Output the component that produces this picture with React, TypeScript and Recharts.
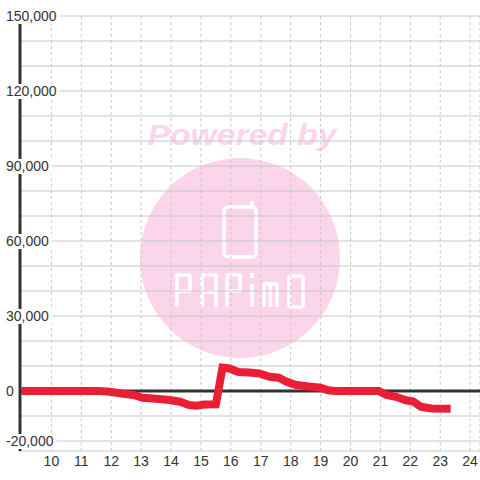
import React from 'react';
import {
  LineChart,
  Line,
  XAxis,
  YAxis,
  CartesianGrid,
  ReferenceLine,
} from 'recharts';

// hour of day / value pairs
const hours = [
  9.0, 11.6, 11.95, 12.4, 12.75, 13.05, 13.4, 13.95, 14.3, 14.6, 14.85, 15.1,
  15.5, 15.72, 15.95, 16.25, 16.6, 16.95, 17.3, 17.6, 17.85, 18.15, 18.6, 19.0,
  19.25, 19.5, 20.95, 21.2, 21.55, 21.85, 22.1, 22.35, 22.7, 23.35,
];
const values = [
  0, 0, -300, -1100, -1600, -2700, -3000, -3600, -4300, -5600, -5900, -5400,
  -5300, 9300, 9000, 7600, 7400, 7000, 5700, 5300, 3800, 2500, 1800, 1300,
  300, 0, 0, -1600, -2400, -3700, -4200, -6300, -7000, -7100,
];
const xTicks = [10, 11, 12, 13, 14, 15, 16, 17, 18, 19, 20, 21, 22, 23, 24];
const yTicks = [
  -20000, -10000, 0, 10000, 20000, 30000, 40000, 50000, 60000, 70000, 80000,
  90000, 100000, 110000, 120000, 130000, 140000, 150000,
];
const yLabels = [-20000, 0, 30000, 60000, 90000, 120000, 150000];

const data = hours.map((h, i) => ({ h, v: values[i] }));

const textW = (s: string) =>
  s.split('').reduce((w, c) => w + (c === ',' ? 3.9 : c === '-' ? 4.7 : 7.8), 0);

const YTick = (props: any) => {
  const { y, payload } = props;
  if (!yLabels.includes(payload.value)) return null;
  const label = payload.value.toLocaleString('en-US');
  const w = textW(label);
  return (
    <g>
      <rect x={5} y={y - 7} width={w + 4} height={15} fill="#fff" />
      <text x={6} y={y + 5} fontSize={14} fill="#333" fontFamily="Liberation Sans, Arial, sans-serif">
        {label}
      </text>
    </g>
  );
};

const XTick = (props: any) => {
  const { x, payload } = props;
  return (
    <text x={x} y={466} fontSize={14} fill="#333" textAnchor="middle" fontFamily="Liberation Sans, Arial, sans-serif">
      {payload.value}
    </text>
  );
};

const Watermark = () => (
  <svg width={480} height={480} style={{ position: 'absolute', left: 0, top: 0 }}>
    <text
      x={242}
      y={145}
      fontSize={29}
      fontWeight="bold"
      fontStyle="italic"
      fill="#fbd5ea"
      textAnchor="middle"
      textLength={189}
      lengthAdjust="spacingAndGlyphs"
      fontFamily="Liberation Sans, Arial, sans-serif"
    >
      Powered by
    </text>
    <circle cx={240} cy={258} r={100} fill="#fbd5ea" />
    <g fill="none" stroke="#fff" strokeWidth={3.5} strokeLinejoin="round">
      <rect x={224} y={207} width={32} height={50} rx={4} />
      <path d="M252 207 V201" />
      <path d="M177 307 V275 H190 V291 H177" />
      <path d="M202 307 V275 H216 V307 M202 292 H216" />
      <path d="M227 307 V275 H240 V291 H227" />
      <path d="M252 284 V307" />
      <path d="M264 307 V284 H277 V307 M270.5 284 V307" />
      <rect x={289} y={276} width={14} height={31} rx={2} />
    </g>
    <rect x={250} y={273} width={4} height={5} fill="#fff" />
  </svg>
);

export default function App() {
  return (
    <div style={{ position: 'absolute', left: 0, top: 0, width: 480, height: 480, background: '#fff' }}>
      <Watermark />
      <div style={{ position: 'absolute', left: 0, top: 0 }}>
        <LineChart width={480} height={480} data={data} margin={{ top: 16, right: 0, bottom: 28, left: 19 }}>
          <CartesianGrid vertical={false} stroke="#c8c8c8" strokeWidth={1.2} />
          <CartesianGrid horizontal={false} stroke="#c8c8c8" strokeDasharray="3 3" />
          <XAxis
            dataKey="h"
            type="number"
            domain={[8.95, 24.33]}
            ticks={xTicks}
            allowDataOverflow
            height={1}
            axisLine={false}
            tickLine={false}
            tick={<XTick />}
            interval={0}
          />
          <YAxis
            type="number"
            domain={[-24000, 150000]}
            ticks={yTicks}
            allowDataOverflow
            width={1}
            axisLine={{ stroke: '#333', strokeWidth: 3 }}
            tickLine={false}
            tick={<YTick />}
            interval={0}
          />
          <ReferenceLine y={0} stroke="#333" strokeWidth={3} />
          <Line
            dataKey="v"
            type="linear"
            stroke="#ea1f35"
            strokeWidth={8}
            dot={false}
            activeDot={false}
            isAnimationActive={false}
          />
        </LineChart>
      </div>
    </div>
  );
}
